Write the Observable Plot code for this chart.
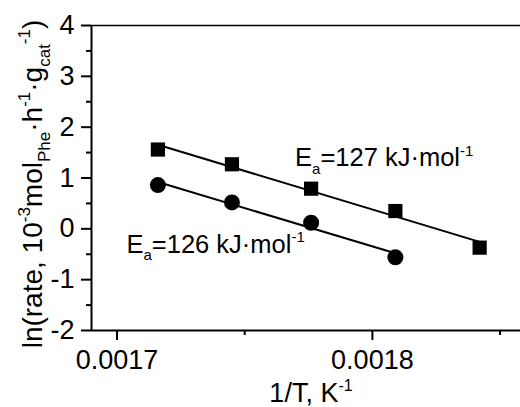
<!DOCTYPE html>
<html>
<head>
<meta charset="utf-8">
<script src="https://cdn.jsdelivr.net/npm/d3@7"></script>
<script src="https://cdn.jsdelivr.net/npm/@observablehq/plot@0.6"></script>
<style>
  html, body { margin: 0; padding: 0; background: #ffffff; }
  svg { display: block; }
</style>
</head>
<body>
<script>
// ---- data ----
const invT = [0.001716, 0.001745, 0.001776, 0.001809, 0.001842];   // 1/T, K^-1
const lnRateSquares = [1.56, 1.27, 0.79, 0.35, -0.37];
const lnRateCircles = [0.86, 0.52, 0.12, -0.56];
const xDomain = [0.00169, 0.001858];
const yDomain = [-2, 4];
const xMajorTicks = [0.0017, 0.0018];
const xTickLabels = ["0.0017", "0.0018"];
const xMinorTicks = [0.00175, 0.00185];
const yMajorTicks = [-2, -1, 0, 1, 2, 3, 4];
const yTickLabels = ["-2", "-1", "0", "1", "2", "3", "4"];
const yMinorTicks = [-1.5, -0.5, 0.5, 1.5, 2.5, 3.5];
const eaValues = ["127", "126"];
const eaX = [0.0017697, 0.0017037];
const eaY = [1.23, -0.47];

const squares = lnRateSquares.map((v, i) => ({x: invT[i], y: v}));
const circles = lnRateCircles.map((v, i) => ({x: invT[i], y: v}));
const notes = eaValues.map((v, i) => ({x: eaX[i], y: eaY[i], text: "Ea=" + v + " kJ·mol-1", val: v}));

const FONT = "'Liberation Sans', Arial, Helvetica, sans-serif";

const chart = Plot.plot({
  width: 520,
  height: 407,
  marginLeft: 91,
  marginRight: 0,
  marginTop: 25,
  marginBottom: 77,
  x: {domain: xDomain},
  y: {domain: yDomain},
  style: {fontFamily: FONT, fontSize: "26px", background: "#ffffff", color: "#000000", overflow: "visible"},
  marks: [
    Plot.axisY(yMajorTicks, {tickSize: 10, tickPadding: 7, strokeWidth: 2, fontSize: 27, label: null,
      tickFormat: d => yTickLabels[yMajorTicks.indexOf(d)]}),
    Plot.axisY(yMinorTicks, {tickSize: 5, strokeWidth: 2, label: null, tickFormat: () => ""}),
    Plot.axisX(xMajorTicks, {tickSize: 10, tickPadding: 9, strokeWidth: 2, fontSize: 27, label: null,
      tickFormat: d => xTickLabels[xMajorTicks.indexOf(d)]}),
    Plot.axisX(xMinorTicks, {tickSize: 5, strokeWidth: 2, label: null, tickFormat: () => ""}),
    Plot.ruleX([xDomain[0]], {stroke: "#000", strokeWidth: 2}),
    Plot.ruleY([yDomain[0]], {stroke: "#000", strokeWidth: 2}),
    Plot.ruleY([yDomain[1]], {stroke: "#000", strokeWidth: 1.6}),
    Plot.linearRegressionY(squares, {x: "x", y: "y", ci: 0, stroke: "#000", strokeWidth: 2}),
    Plot.linearRegressionY(circles, {x: "x", y: "y", ci: 0, stroke: "#000", strokeWidth: 2}),
    Plot.dot(squares, {x: "x", y: "y", symbol: "square", r: 8, fill: "#000", stroke: "none"}),
    Plot.dot(circles, {x: "x", y: "y", symbol: "circle", r: 8, fill: "#000", stroke: "none"}),
    Plot.text(notes, {x: "x", y: "y", text: "text", textAnchor: "start", lineAnchor: "bottom", fontSize: 25.5, fill: "#000"})
  ]
});
document.body.appendChild(chart);

// rich text helper: parts = [[string, "n"|"sub"|"sup"], ...]
function richText(el, parts, size) {
  const sel = d3.select(el);
  sel.text(null);
  let cur = 0;
  const small = Math.round(size * 0.6);
  for (const [str, kind] of parts) {
    const target = kind === "sub" ? size * 0.3 : kind === "sup" ? -size * 0.42 : 0;
    const t = sel.append("tspan").text(str).attr("dy", (target - cur).toFixed(2));
    if (kind !== "n") t.attr("font-size", small);
    cur = target;
  }
}

const svg = d3.select(chart);
// annotations: E_a = ... kJ·mol^-1
svg.selectAll("text").each(function () {
  const note = notes.find(n => n.text === this.textContent);
  if (note) richText(this, [["E", "n"], ["a", "sub"], ["=" + note.val + " kJ·mol", "n"], ["-1", "sup"]], 25.5);
});

// x-axis title
const xt = svg.append("text")
  .attr("x", 311).attr("y", 402)
  .attr("text-anchor", "middle")
  .attr("font-family", FONT).attr("font-size", 27).attr("fill", "#000");
richText(xt.node(), [["1/T, K", "n"], ["-1", "sup"]], 27);

// y-axis title
const yt = svg.append("text")
  .attr("transform", "translate(42,184) rotate(-90)")
  .attr("text-anchor", "middle")
  .attr("font-family", FONT).attr("font-size", 28).attr("fill", "#000");
richText(yt.node(), [["ln(rate, 10", "n"], ["-3", "sup"], ["mol", "n"], ["Phe", "sub"], ["·h", "n"], ["-1", "sup"],
  ["·g", "n"], ["cat", "sub"], ["-1", "sup"], [")", "n"]], 28);
</script>
</body>
</html>
